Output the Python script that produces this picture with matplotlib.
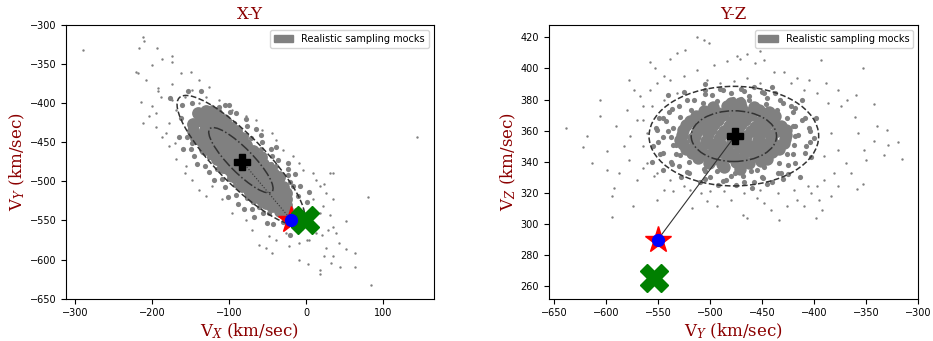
import numpy as np
import matplotlib.pyplot as plt
from matplotlib.patches import Ellipse, Patch

plt.rcParams['mathtext.fontset'] = 'dejavuserif'

# ---- data ----
# X-Y panel: dense core of mock samples (km/sec)
xy_core = [(-141, -413), (-147, -427), (-130, -410), (-135, -423), (-147, -435), (-126, -422), (-117, -413),
           (-132, -434), (-143, -445), (-117, -425), (-134, -442), (-121, -435), (-107, -421), (-135, -449),
           (-125, -445), (-109, -429), (-113, -439), (-132, -458), (-103, -429), (-115, -447), (-106, -438),
           (-124, -456), (-99, -437), (-117, -455), (-108, -446), (-121, -465), (-102, -446), (-91, -435),
           (-111, -455), (-104, -454), (-95, -445), (-113, -463), (-116, -472), (-98, -454), (-89, -445),
           (-106, -462), (-91, -453), (-100, -462), (-110, -472), (-83, -445), (-103, -471), (-94, -462),
           (-85, -453), (-108, -482), (-88, -462), (-95, -469), (-79, -453), (-99, -479), (-83, -463),
           (-89, -469), (-92, -478), (-77, -463), (-99, -485), (-84, -470), (-84, -476), (-69, -461),
           (-92, -484), (-77, -469), (-95, -493), (-77, -475), (-69, -467), (-85, -483), (-85, -489),
           (-69, -473), (-77, -481), (-86, -496), (-70, -480), (-59, -469), (-77, -487), (-77, -493),
           (-61, -477), (-70, -486), (-84, -506), (-63, -485), (-70, -492), (-56, -478), (-74, -502),
           (-58, -486), (-66, -494), (-75, -509), (-60, -494), (-49, -483), (-64, -504), (-50, -490),
           (-73, -513), (-56, -502), (-66, -512), (-45, -491), (-57, -509), (-47, -499), (-68, -520),
           (-47, -505), (-58, -516), (-36, -494), (-49, -513), (-39, -503), (-59, -523), (-40, -510),
           (-50, -520), (-42, -518), (-31, -507), (-52, -528), (-33, -515), (-43, -525), (-35, -523),
           (-44, -532), (-27, -515), (-34, -530), (-27, -523), (-26, -530), (-34, -538), (-25, -537)]

# X-Y panel: samples just outside the core
xy_mid = [(-113, -405), (-99, -411), (-94, -426), (-77, -429), (-72, -444), (-58, -450), (-57, -465), (-44, -468),
          (-39, -481), (-24, -484), (-21, -501), (-8, -506), (-100, -402), (-78, -420), (-59, -441), (-40, -456),
          (-24, -476), (-100, -422), (-79, -441), (-59, -459), (-46, -478), (-24, -492), (-155, -443),
          (-150, -458), (-134, -462), (-132, -480), (-116, -484), (-109, -497), (-94, -500), (-92, -518),
          (-77, -521), (-71, -535), (-56, -540), (-51, -553), (-160, -458), (-142, -478), (-120, -498),
          (-102, -520), (-81, -535), (-137, -455), (-117, -475), (-101, -497), (-79, -513), (-61, -533),
          (-148, -400), (-163, -419), (-161, -403), (-153, -385), (-177, -393), (-137, -385), (-13, -537),
          (-23, -555), (-2, -544), (-7, -559), (5, -559), (1, -527), (-21, -569), (-123, -405), (-106, -402),
          (-91, -413), (-88, -436), (-65, -433), (-69, -457), (-46, -458), (-37, -473), (-39, -487),
          (-15, -491), (-18, -506), (-11, -519), (3, -513), (-165, -443), (-149, -451), (-146, -468),
          (-127, -469), (-126, -488), (-105, -487), (-105, -507), (-93, -505), (-89, -529), (-69, -527),
          (-68, -546), (-48, -540), (-43, -555), (-30, -552)]

# X-Y panel: scattered outer samples
xy_halo = [(-290, -332), (144, -443), (84, -633), (80, -520), (-212, -315), (-211, -320), (-217, -330),
           (-194, -330), (-221, -360), (-218, -362), (-215, -398), (-212, -425), (-174, -340), (51, -587),
           (63, -609), (63, -591), (51, -551), (42, -579), (43, -609), (32, -604), (34, -596), (17, -613),
           (18, -619), (23, -596), (25, -585), (34, -489), (31, -489), (23, -504), (26, -515), (34, -523),
           (34, -558), (38, -566), (2, -606), (-9, -600), (-61, -581), (-39, -575), (-26, -566), (-158, -489),
           (-171, -451), (-187, -443), (-195, -430), (-200, -404), (-204, -417), (-189, -392), (-192, -381),
           (-208, -370), (-200, -351), (-187, -343), (-174, -347), (-163, -362), (-150, -360), (-139, -370),
           (-126, -379), (-113, -396), (-96, -409), (-78, -417), (-65, -421), (-57, -434), (-44, -438),
           (-39, -447), (-31, -460), (-18, -468), (-9, -477), (-5, -485), (8, -489), (13, -498), (17, -506),
           (8, -523), (17, -541), (21, -532), (30, -543), (28, -562), (13, -566), (4, -575), (-9, -579),
           (-22, -583), (-44, -592), (-52, -585), (-48, -570), (-70, -562), (-78, -549), (-96, -541),
           (-109, -523), (-130, -519), (-139, -511), (-122, -506), (-148, -498), (-156, -481), (-169, -472),
           (-178, -455), (-182, -438), (-178, -426), (-195, -413), (-169, -409), (-174, -396), (-158, -392),
           (-148, -383), (-130, -392), (-139, -400), (-174, -376), (-193, -385), (1, -575), (20, -568)]

# Y-Z panel: dense core of mock samples
yz_core = [(-486, 336.5), (-471, 335.5),
           (-501, 339.5), (-488, 338.5), (-475, 340), (-462, 339), (-451, 340.5),
           (-511, 342.5), (-497, 341.5), (-484, 343), (-470, 342), (-457, 343.5), (-445, 342),
           (-517, 345.5), (-503, 344.5), (-491, 346), (-478, 345), (-466, 346.5), (-452, 345), (-440, 346),
           (-523, 348.5), (-509, 347.5), (-496, 349), (-484, 348), (-471, 349.5), (-459, 348), (-446, 349),
           (-434, 348.5), (-526, 351.5), (-514, 350.5), (-501, 352), (-489, 351), (-476, 352.5), (-463, 351),
           (-451, 352), (-438, 351.5), (-429, 352), (-529, 354), (-516, 355), (-504, 353.5), (-491, 354.5),
           (-479, 353.5), (-466, 355), (-454, 354), (-441, 355), (-428, 354.5), (-527, 357.5), (-514, 356.5),
           (-502, 358), (-489, 357), (-477, 358), (-465, 356.5), (-452, 358), (-440, 357), (-427, 357.5),
           (-526, 360.5), (-512, 359.5), (-499, 361), (-486, 360), (-473, 361), (-461, 359.5), (-448, 361),
           (-436, 360), (-427, 360.5), (-523, 363.5), (-509, 362.5), (-496, 364), (-482, 363), (-470, 364),
           (-457, 362.5), (-445, 364), (-432, 363), (-519, 366.5), (-505, 365.5), (-492, 367), (-479, 366),
           (-466, 367), (-453, 365.5), (-440, 366.5), (-513, 369.5), (-500, 368.5), (-487, 370), (-474, 369),
           (-461, 370), (-448, 368.5), (-437, 369.5), (-506, 372.5), (-492, 371.5), (-479, 373), (-466, 372),
           (-453, 373), (-443, 372), (-497, 375), (-484, 376), (-470, 375), (-458, 375.5), (-480, 378),
           (-471, 377.5)]

# Y-Z panel: samples just outside the core
yz_mid = [(-418, 356.5), (-420, 363), (-426, 368), (-436, 373.5), (-446, 377), (-462, 379.5), (-478, 380.5),
          (-493, 379), (-507, 377.5), (-518, 373), (-529, 368.5), (-535, 362), (-537, 356), (-533, 350.5),
          (-529, 344.5), (-520, 340), (-506, 335.5), (-493, 334), (-476, 332.5), (-461, 334), (-448, 336.5),
          (-434, 339.5), (-426, 345), (-419, 350.5), (-404, 360), (-409, 368), (-418, 374.5), (-433, 379.5),
          (-448, 384), (-467, 385.5), (-487, 386), (-505, 383.5), (-522, 380), (-536, 374), (-545, 368),
          (-551, 360.5), (-550, 352.5), (-545, 345.5), (-536, 338.5), (-522, 333.5), (-505, 329),
          (-487, 327.5), (-467, 327), (-449, 329.5), (-432, 333), (-418, 339), (-409, 345.5), (-404, 352.5),
          (-515, 380), (-498, 383), (-480, 384), (-462, 382), (-445, 381), (-430, 378), (-505, 386),
          (-470, 387), (-450, 385), (-520, 333), (-500, 330), (-485, 328), (-468, 331), (-450, 330),
          (-435, 333), (-510, 327), (-475, 325), (-458, 327), (-440, 327), (-548, 345), (-545, 356),
          (-542, 366), (-537, 340), (-539, 372), (-552, 362), (-535, 351), (-420, 345), (-415, 357),
          (-412, 367), (-420, 372), (-408, 350), (-425, 338), (-405, 362), (-530, 376), (-422, 376),
          (-530, 337), (-425, 332), (-525, 385), (-490, 387), (-458, 388), (-437, 384), (-412, 380),
          (-540, 383), (-505, 390), (-470, 380.5), (-440, 388), (-528, 330), (-492, 325), (-460, 323),
          (-445, 326), (-413, 330), (-545, 335), (-505, 334), (-480, 331), (-455, 335), (-430, 329),
          (-555, 350), (-549, 368), (-556, 340), (-400, 355), (-403, 343), (-398, 368), (-418, 363),
          (-540, 360), (-533, 345)]

# Y-Z panel: scattered outer samples
yz_halo = [(-638, 362), (-622, 349.5), (-618.5, 356.4), (-613, 339), (-606, 380), (-606, 369.7), (-599, 346.7),
           (-598.6, 334.5), (-594, 318), (-594, 304.5), (-592, 323), (-590, 362.8), (-587, 332.8),
           (-573.5, 311.8), (-578, 392.8), (-572.5, 386.4), (-557.4, 404), (-552.6, 400.3), (-544.6, 395),
           (-538, 406), (-532, 410), (-524, 412), (-512.4, 420.2), (-506, 418), (-501, 416.4), (-496, 402.4),
           (-483.5, 404.6), (-474, 407.8), (-471, 406), (-464, 409), (-452, 411), (-457, 403.5), (-448, 405.6),
           (-438.5, 398), (-429, 398), (-416, 394), (-404.7, 392.8), (-393.5, 405.2), (-388.7, 390.7),
           (-377.4, 386.4), (-368, 380), (-360, 383), (-353.3, 400.3), (-342, 377.4), (-339, 363.2),
           (-330, 360.2), (-329.2, 351), (-319.6, 352.7), (-315.7, 341.8), (-332.4, 344.6), (-342, 353.2),
           (-352.4, 347.8), (-350, 341.4), (-353.3, 326), (-358.8, 322.5), (-364.6, 332.8), (-369.4, 339.2),
           (-377.4, 347.8), (-384, 358.5), (-358, 358.5), (-361, 369), (-374, 375.7), (-391.9, 309.2),
           (-398.3, 303.9), (-395, 315.7), (-384, 317.8), (-377.4, 324.2), (-390, 328.5), (-403, 320),
           (-409.6, 311.4), (-416, 315.7), (-425.6, 311.4), (-433.7, 302.8), (-441.7, 309.2), (-448, 313.5),
           (-454.6, 316.7), (-464.2, 303.9), (-468, 306), (-480, 315.7), (-493, 311.4), (-502.8, 314.6),
           (-509, 320), (-517, 310.3), (-525, 324.2), (-535, 321), (-544.6, 322), (-551, 315.7), (-554, 330.7),
           (-563.9, 336), (-570.3, 328.5), (-578, 341.4), (-583, 350), (-577, 356.4), (-570, 367),
           (-580, 373.5), (-564, 375.7), (-567, 382), (-557.4, 386.4), (-551, 390.7), (-538, 392.8),
           (-525, 395), (-512.4, 399.2), (-503, 392.8), (-490, 390.7), (-477, 391.7), (-464, 394),
           (-451.6, 390.7), (-422.4, 390.7), (-409.6, 386.4), (-396.7, 384.2), (-387, 377.8), (-390, 343.5),
           (-380.6, 332.8), (-396.7, 324.2), (-406, 324.2), (-419, 322), (-435, 320), (-451.6, 322),
           (-467.6, 320), (-486.7, 321), (-499.6, 321), (-519, 322), (-538, 328.5), (-551, 332.8),
           (-560.6, 339.2), (-564, 350), (-560.6, 358.5), (-564, 367), (-556, 375.7), (-544.6, 380),
           (-532, 384.2)]

# mean of the mocks, observed value, second estimate, crosses
xy_mean = (-83, -475)
yz_mean = (-476, 356.5)
xy_star = (-20, -549)
yz_star = (-550, 290)
xy_cross = (-1.5, -550)
yz_cross = (-553.5, 265.5)

# 1 and 2 sigma ellipses: centre, full width, full height, angle
xy_ell = [((-85, -473), 114, 31, -45), ((-85, -473), 226, 62, -45)]
yz_ell = [((-477, 356.5), 82, 32.6, 0), ((-477, 356.5), 163, 64, 0)]

dark_red = '#8b0000'
pt_gray = '#808080'

fig = plt.figure(figsize=(9.33, 3.41), dpi=100)
ax1 = fig.add_axes([0.0707, 0.124, 0.394, 0.803])
ax2 = fig.add_axes([0.588, 0.124, 0.396, 0.803])

panels = [
    (ax1, xy_core, xy_mid, xy_halo, xy_mean, xy_star, xy_cross, xy_ell, 'X-Y',
     r'V$_X$ (km/sec)', r'V$_Y$ (km/sec)', ':', 85),
    (ax2, yz_core, yz_mid, yz_halo, yz_mean, yz_star, yz_cross, yz_ell, 'Y-Z',
     r'V$_Y$ (km/sec)', r'V$_Z$ (km/sec)', '-', 80),
]

for ax, core, mid, halo, mean, star, cross, ells, title, xl, yl, ls, core_size in panels:
    core = np.array(core)
    mid = np.array(mid)
    halo = np.array(halo)
    ax.scatter(halo[:, 0], halo[:, 1], s=3, color=pt_gray, linewidths=0, zorder=1)
    ax.scatter(mid[:, 0], mid[:, 1], s=14, color=pt_gray, linewidths=0, zorder=1)
    ax.scatter(core[:, 0], core[:, 1], s=core_size, color=pt_gray, linewidths=0, zorder=1)
    for (c, w, h, ang), style in zip(ells, ['-.', '--']):
        ax.add_patch(Ellipse(c, w, h, angle=ang, fill=False, edgecolor='#333333',
                             linestyle=style, linewidth=1.1, zorder=2))
    ax.plot([star[0], mean[0]], [star[1], mean[1]], color='#333333', linestyle=ls, linewidth=0.8, zorder=3)
    ax.plot(*mean, marker='P', color='black', markersize=12, linestyle='none', zorder=4)
    ax.plot(*star, marker='*', color='red', markersize=20, linestyle='none', zorder=4)
    ax.plot(*cross, marker='X', color='green', markersize=20, linestyle='none', zorder=5)
    ax.plot(*star, marker='o', color='blue', markersize=8.5, linestyle='none', zorder=6)
    ax.set_title(title, color=dark_red, family='DejaVu Serif', fontsize=12, pad=4)
    ax.set_xlabel(xl, color=dark_red, family='DejaVu Serif', fontsize=12, labelpad=2)
    ax.set_ylabel(yl, color=dark_red, family='DejaVu Serif', fontsize=12, labelpad=2)
    ax.tick_params(labelsize=7)
    ax.legend(handles=[Patch(color=pt_gray, label='Realistic sampling mocks')],
              loc='upper right', fontsize=7)

ax1.set_xlim(-312, 165)
ax1.set_ylim(-650, -300)
ax1.set_xticks([-300, -200, -100, 0, 100])
ax1.set_yticks(np.arange(-650, -299, 50))

ax2.set_xlim(-655, -300)
ax2.set_ylim(252, 428)
ax2.set_xticks(np.arange(-650, -299, 50))
ax2.set_yticks(np.arange(260, 421, 20))

fig.savefig('out.png', dpi=100)
